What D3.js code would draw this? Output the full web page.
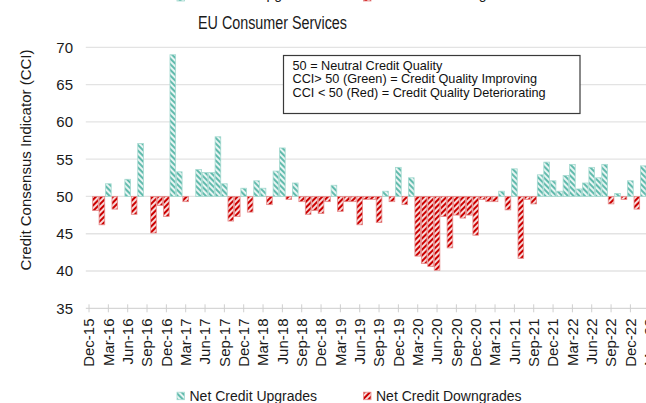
<!DOCTYPE HTML>
<html>
<head>
  <meta http-equiv="Content-Type" content="text/html; charset=UTF-8" />
  <script src="https://d3js.org/d3.v7.min.js"></script>
  <style>
    body { margin: 0; background: #fff; }
    svg { display: block; font-family: "Liberation Sans", Arial, sans-serif; }
  </style>
</head>
<body>
<svg width="646" height="403"></svg>
<script>
  // monthly CCI readings, Dec-15 .. Mar-23
  var firstMonth = new Date(2015, 11, 1);
  var cci = [
    50.0, 48.1, 46.2, 51.7, 48.3, 50.0, 52.3, 47.6, 57.1, 50.0, 45.1, 48.8,
    47.3, 69.0, 53.3, 49.3, 50.0, 53.6, 53.2, 53.2, 58.0, 51.7, 46.7, 47.3,
    51.1, 47.9, 52.1, 51.1, 48.9, 53.4, 56.5, 49.6, 51.8, 49.3, 47.6, 48.1,
    47.7, 49.3, 51.5, 48.0, 49.3, 49.3, 46.2, 49.6, 49.6, 46.5, 50.7, 49.3,
    53.9, 48.9, 52.5, 42.0, 41.0, 40.6, 40.1, 47.3, 43.1, 47.5, 47.1, 47.5,
    44.8, 49.6, 49.3, 49.3, 50.7, 48.2, 53.7, 41.7, 49.6, 49.0, 52.9, 54.6,
    52.1, 50.7, 52.8, 54.3, 51.0, 51.8, 53.9, 52.5, 54.3, 49.0, 50.4, 49.6,
    52.1, 48.3, 54.1, 50.0
  ];
  var months = cci.map(function(d, i) { return d3.timeMonth.offset(firstMonth, i); });
  var yTicks = [35, 40, 45, 50, 55, 60, 65, 70];
  var noteLines = [
    "50 = Neutral Credit Quality",
    "CCI> 50 (Green) = Credit Quality Improving",
    "CCI < 50 (Red) = Credit Quality Deteriorating"
  ];
  var seriesNames = ["Net Credit Upgrades", "Net Credit Downgrades"];

  var fmt = d3.timeFormat("%b-%y");
  var svg = d3.select("svg");

  var x = d3.scaleBand()
    .domain(months.map(fmt))
    .range([85.8, 85.8 + months.length * 6.445])
    .padding(0);
  var y = d3.scaleLinear().domain([35, 70]).range([308.3, 47.3]);

  // hatch patterns
  var defs = svg.append("defs");
  function hatch(id, fill, angle) {
    var p = defs.append("pattern")
      .attr("id", id)
      .attr("patternUnits", "userSpaceOnUse")
      .attr("width", 4).attr("height", 4)
      .attr("patternTransform", "rotate(" + angle + ")");
    p.append("rect").attr("width", 4).attr("height", 4).attr("fill", fill);
    p.append("line").attr("x1", 1).attr("x2", 1).attr("y1", 0).attr("y2", 4)
      .attr("stroke", "#fff").attr("stroke-width", 1.7);
  }
  hatch("hatchUp", "#62bbad", -45);
  hatch("hatchDown", "#cc0000", 45);
  var upStroke = "#a3d9cf", downStroke = "#e58a8a";

  // gridlines
  svg.append("g").selectAll("line")
    .data(yTicks.slice(1))
    .join("line")
    .attr("x1", 85.8).attr("x2", 646)
    .attr("y1", function(d) { return y(d); })
    .attr("y2", function(d) { return y(d); })
    .attr("stroke", "#e3e3e3").attr("stroke-width", 1.3);

  // y labels
  svg.append("g").selectAll("text")
    .data(yTicks)
    .join("text")
    .attr("x", 73)
    .attr("y", function(d) { return y(d); })
    .attr("dy", "0.36em")
    .attr("text-anchor", "end")
    .attr("font-size", 15)
    .attr("fill", "#1a1a1a")
    .text(function(d) { return d; });

  // bars
  svg.append("g").selectAll("rect")
    .data(cci.map(function(v, i) { return { m: fmt(months[i]), v: v }; })
      .filter(function(d) { return d.v !== 50; }))
    .join("rect")
    .attr("x", function(d) { return x(d.m) + 0.4; })
    .attr("width", x.bandwidth() - 0.8)
    .attr("y", function(d) { return y(Math.max(d.v, 50)); })
    .attr("height", function(d) { return Math.abs(y(d.v) - y(50)); })
    .attr("fill", function(d) { return d.v > 50 ? "url(#hatchUp)" : "url(#hatchDown)"; })
    .attr("stroke", function(d) { return d.v > 50 ? upStroke : downStroke; })
    .attr("stroke-width", 0.8);

  // x axis
  var tickMonths = months.filter(function(d, i) { return i % 3 === 0; }).map(fmt);
  svg.append("line")
    .attr("x1", 85.8).attr("x2", 646)
    .attr("y1", y(35)).attr("y2", y(35))
    .attr("stroke", "#d6d6d6").attr("stroke-width", 1.3);
  var xt = svg.append("g").selectAll("g")
    .data(tickMonths)
    .join("g")
    .attr("transform", function(d) { return "translate(" + (x(d) + x.bandwidth() / 2) + ",0)"; });
  xt.append("line")
    .attr("y1", y(35) - 4).attr("y2", y(35) + 4)
    .attr("stroke", "#cfcfcf").attr("stroke-width", 1);
  xt.append("text")
    .attr("transform", "translate(0,318.5) rotate(-90)")
    .attr("dy", "0.36em")
    .attr("text-anchor", "end")
    .attr("font-size", 15)
    .attr("fill", "#1a1a1a")
    .text(function(d) { return d; });

  // titles
  svg.append("text")
    .attr("x", 198).attr("y", 29)
    .attr("font-size", 18)
    .attr("textLength", 149)
    .attr("lengthAdjust", "spacingAndGlyphs")
    .attr("fill", "#1a1a1a")
    .text("EU Consumer Services");
  svg.append("text")
    .attr("transform", "translate(30.5,160) rotate(-90)")
    .attr("text-anchor", "middle")
    .attr("font-size", 15)
    .attr("fill", "#1a1a1a")
    .text("Credit Consensus Indicator (CCI)");

  // note box
  svg.append("rect")
    .attr("x", 283.5).attr("y", 55.5)
    .attr("width", 296.5).attr("height", 58)
    .attr("fill", "#fff").attr("stroke", "#3a3a3a").attr("stroke-width", 1.2);
  svg.append("g").selectAll("text")
    .data(noteLines)
    .join("text")
    .attr("x", 292.5)
    .attr("y", function(d, i) { return 69.5 + i * 13.6; })
    .attr("font-size", 12.7)
    .attr("fill", "#111")
    .text(function(d) { return d; });

  // legends (the top copy is cut off by the page edge)
  function legend(baseline, sq) {
    var items = [
      { name: seriesNames[0], fill: "url(#hatchUp)", stroke: upStroke, x: 177 },
      { name: seriesNames[1], fill: "url(#hatchDown)", stroke: downStroke, x: 363.5 }
    ];
    var g = svg.append("g").selectAll("g").data(items).join("g");
    g.append("rect")
      .attr("x", function(d) { return d.x; })
      .attr("y", sq)
      .attr("width", 7.5).attr("height", 7.5)
      .attr("fill", function(d) { return d.fill; })
      .attr("stroke", function(d) { return d.stroke; })
      .attr("stroke-width", 0.8);
    g.append("text")
      .attr("x", function(d) { return d.x + 12.5; })
      .attr("y", baseline)
      .attr("font-size", 14)
      .attr("fill", "#1a1a1a")
      .text(function(d) { return d.name; });
  }
  legend(400.7, 392.2);
  legend(-0.6, -6.5);
</script>
</body>
</html>
